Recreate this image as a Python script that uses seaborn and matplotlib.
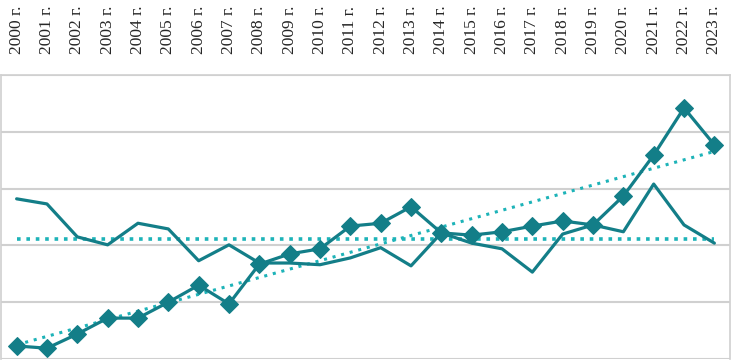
import numpy as np
import pandas as pd
import matplotlib
matplotlib.use("Agg")
import matplotlib.pyplot as plt
import seaborn as sns

years = [f"{y} г." for y in range(2000, 2024)]
series_a = [0.23, 0.19, 0.44, 0.72, 0.72, 1.00, 1.30, 0.97, 1.67, 1.85, 1.94, 2.34,
            2.39, 2.68, 2.22, 2.18, 2.24, 2.34, 2.43, 2.36, 2.87, 3.59, 4.42, 3.77]
series_b = [2.82, 2.73, 2.15, 2.01, 2.39, 2.29, 1.73, 2.01, 1.69, 1.69, 1.66, 1.78,
            1.96, 1.64, 2.22, 2.04, 1.94, 1.53, 2.20, 2.36, 2.24, 3.08, 2.36, 2.04]

sns.set_theme(style="white")
plt.rcParams['font.family'] = ['Liberation Serif', 'DejaVu Serif']

x = np.arange(len(years))
df = pd.DataFrame({"x": x, "a": series_a, "b": series_b})
coef = np.polyfit(x, series_a, 1)
df["trend_a"] = np.polyval(coef, x)
df["mean_b"] = np.mean(series_b)

fig = plt.figure(figsize=(7.31, 3.61), dpi=100)
ax = fig.add_axes([0.002, 0.0055, 0.996, 0.7868])

line_c = "#137E88"
dot_c = "#1DB3B8"

sns.lineplot(data=df, x="x", y="mean_b", ax=ax, color=dot_c, lw=2.6,
             linestyle=(0, (1, 1.6)))
sns.lineplot(data=df, x="x", y="trend_a", ax=ax, color=dot_c, lw=2.2,
             linestyle=(0, (1, 1.9)))
sns.lineplot(data=df, x="x", y="b", ax=ax, color=line_c, lw=2.3)
sns.lineplot(data=df, x="x", y="a", ax=ax, color=line_c, lw=2.3,
             marker="D", markersize=9, markeredgecolor=line_c)

ax.set_xlim(-0.5, len(years) - 0.5)
ax.set_ylim(0, 5)
ax.set_yticks([0, 1, 2, 3, 4, 5])
ax.set_yticklabels([])
ax.yaxis.grid(True, color="#d0d0d0", lw=1.5)
ax.xaxis.grid(False)
ax.set_xticks(x)
ax.set_xticklabels(years, rotation=90, fontsize=12.5)
ax.xaxis.tick_top()
ax.tick_params(axis="x", length=0, pad=15)
ax.tick_params(axis="y", length=0)
ax.set_xlabel("")
ax.set_ylabel("")
for s in ["left", "right", "top", "bottom"]:
    ax.spines[s].set_color("#d0d0d0")
    ax.spines[s].set_linewidth(1.2)
ax.spines["bottom"].set_visible(False)

fig.savefig("out.png", dpi=100)
